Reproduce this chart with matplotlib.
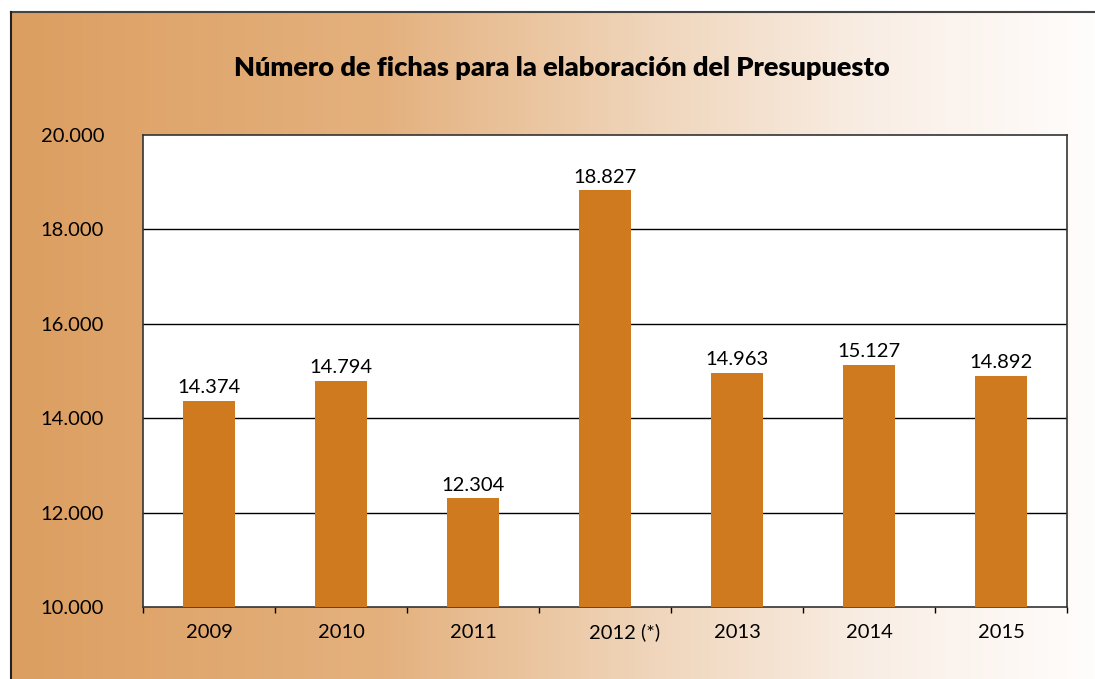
import numpy as np
import matplotlib
matplotlib.use("Agg")
import matplotlib.pyplot as plt
import matplotlib.transforms as mtransforms
from matplotlib.colors import LinearSegmentedColormap
from matplotlib.patches import Rectangle

categories = ["2009", "2010", "2011", "2012 (*)", "2013", "2014", "2015"]
values = [14374, 14794, 12304, 18827, 14963, 15127, 14892]
labels = ["14.374", "14.794", "12.304", "18.827", "14.963", "15.127", "14.892"]
yticks = [10000, 12000, 14000, 16000, 18000, 20000]
ytick_labels = ["10.000", "12.000", "14.000", "16.000", "18.000", "20.000"]

W, H = 1095, 679
fig = plt.figure(figsize=(W / 100, H / 100), dpi=100)
fig.patch.set_facecolor("white")

# background gradient
bg = fig.add_axes([0, 0, 1, 1], zorder=-10)
cmap = LinearSegmentedColormap.from_list(
    "g", [(0, "#DC9E60"), (0.35, "#E4B17E"), (0.6, "#F0D6BC"), (0.8, "#F9EEE5"), (1, "#FFFDFC")])
grad = np.linspace(0, 1, 512)[None, :]
bg.imshow(grad, aspect="auto", cmap=cmap, extent=[0, W, H, 0])
bg.set_xlim(0, W)
bg.set_ylim(H, 0)
bg.add_patch(Rectangle((0, 0), W, 12, facecolor="white", edgecolor="none"))
bg.add_patch(Rectangle((0, 0), 11, H, facecolor="white", edgecolor="none"))
bg.plot([11, W], [12, 12], color="#444444", lw=1.5)
bg.plot([11, 11], [12, H], color="#222222", lw=1.5)
bg.axis("off")

fontfam = ["Lato", "DejaVu Sans"]
fs = 14.5

ax = fig.add_axes([143 / W, 1 - 607 / H, (1067 - 143) / W, (607 - 135) / H])
ax.set_facecolor("white")
x = np.arange(len(categories))
ax.bar(x, values, width=0.4, color="#D07A1F", zorder=3)
ax.set_ylim(10000, 20000)
ax.set_xlim(-0.5, len(categories) - 0.5)
ax.set_yticks(yticks)
ax.set_yticklabels(ytick_labels, fontsize=fs, family=fontfam)
ax.tick_params(axis="y", length=0, pad=28)
ax.set_xticks(x)
ax.set_xticklabels(categories, fontsize=fs, family=fontfam)
ax.tick_params(axis="x", length=0, pad=12)
ax.set_xticks(np.arange(len(categories) + 1) - 0.5, minor=True)
ax.tick_params(axis="x", which="minor", length=4, width=1, direction="out")
# shift the "(*)" label so that the year sits under the bar
for t in ax.get_xticklabels():
    if "(*)" in t.get_text():
        t.set_transform(t.get_transform() + mtransforms.ScaledTranslation(20 / 100, 0, fig.dpi_scale_trans))
for yv in yticks[1:-1]:
    ax.axhline(yv, color="black", lw=1, zorder=1)
for sp in ax.spines.values():
    sp.set_color("#333333")
    sp.set_linewidth(1.2)
for xi, v, lab in zip(x, values, labels):
    ax.text(xi, v + 100, lab, ha="center", va="bottom", fontsize=fs, family=fontfam, zorder=4)

fig.text(562 / W, 1 - 68 / H, "Número de fichas para la elaboración del Presupuesto",
         ha="center", va="center", fontsize=19.5, fontweight="heavy", family=fontfam)

fig.savefig("out.png", dpi=100)
